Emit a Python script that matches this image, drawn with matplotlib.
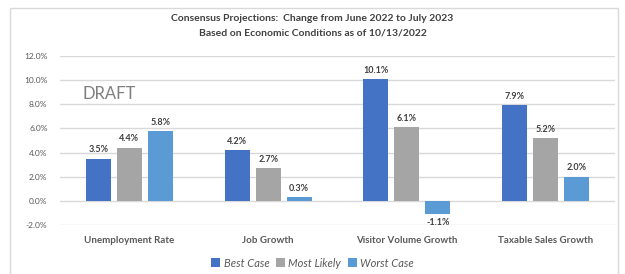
import numpy as np
import matplotlib.pyplot as plt
from matplotlib.patches import Rectangle

plt.rcParams['font.family'] = ['Lato', 'DejaVu Sans']

categorias = ['Unemployment Rate', 'Job Growth', 'Visitor Volume Growth', 'Taxable Sales Growth']
series = ['Best Case', 'Most Likely', 'Worst Case']
best_case = [3.5, 4.2, 10.1, 7.9]
most_likely = [4.4, 2.7, 6.1, 5.2]
worst_case = [5.8, 0.3, -1.1, 2.0]
colores = ['#4472C4', '#A5A5A5', '#5B9BD5']
yticks = [-2, 0, 2, 4, 6, 8, 10, 12]

fig = plt.figure(figsize=(6.25, 2.74), dpi=100)
ax = fig.add_axes([0.096, 0.179, 0.888, 0.617])

# marco exterior del grafico
fig.patches.append(Rectangle((0.016, -0.05), 0.973, 1.02, transform=fig.transFigure,
                             fill=False, edgecolor='#D9D9D9', linewidth=1))

x = np.arange(len(categorias))
ancho = 0.18
paso = 0.223
texto = '#404040'
for i, (nombre, valores) in enumerate(zip(series, [best_case, most_likely, worst_case])):
    pos = x + (i - 1) * paso
    ax.bar(pos, valores, ancho, color=colores[i], label=nombre, zorder=3)
    for p, v in zip(pos, valores):
        if v >= 0:
            ax.text(p, v + 0.35, f'{v:.1f}%', ha='center', va='bottom',
                    fontsize=6.5, fontweight='bold', color=texto)
        else:
            ax.text(p, v - 0.35, f'{v:.1f}%', ha='center', va='top',
                    fontsize=6.5, fontweight='bold', color=texto)

ax.set_ylim(-2, 12)
ax.set_xlim(-0.5, len(categorias) - 0.5)
ax.set_yticks(yticks)
ax.set_yticklabels([f'{t:.1f}%' for t in yticks], fontsize=6, color='#595959')
ax.set_xticks(x)
ax.set_xticklabels(categorias, fontsize=7, fontweight='bold', color='#595959')
ax.tick_params(axis='both', length=0)
ax.tick_params(axis='x', pad=8)
ax.tick_params(axis='y', pad=9)
ax.grid(axis='y', color='#D9D9D9', linewidth=1, zorder=0)
for s in ax.spines.values():
    s.set_visible(False)

ax.text(0.041, 0.775, 'DRAFT', transform=ax.transAxes, fontsize=12, color='#7F7F7F',
        va='center')

fig.text(0.5, 0.925, 'Consensus Projections:  Change from June 2022 to July 2023',
         ha='center', fontsize=7.5, fontweight='bold', color=texto)
fig.text(0.5, 0.87, 'Based on Economic Conditions as of 10/13/2022',
         ha='center', fontsize=7.5, fontweight='bold', color=texto)

leg = fig.legend(loc='center', bbox_to_anchor=(0.5, 0.04), ncol=3, frameon=False,
                 fontsize=8, handlelength=0.8, handleheight=0.8, handletextpad=0.3,
                 columnspacing=0.6)
for t in leg.get_texts():
    t.set_fontstyle('italic')
    t.set_color('#595959')

plt.savefig('out.png', dpi=100)
